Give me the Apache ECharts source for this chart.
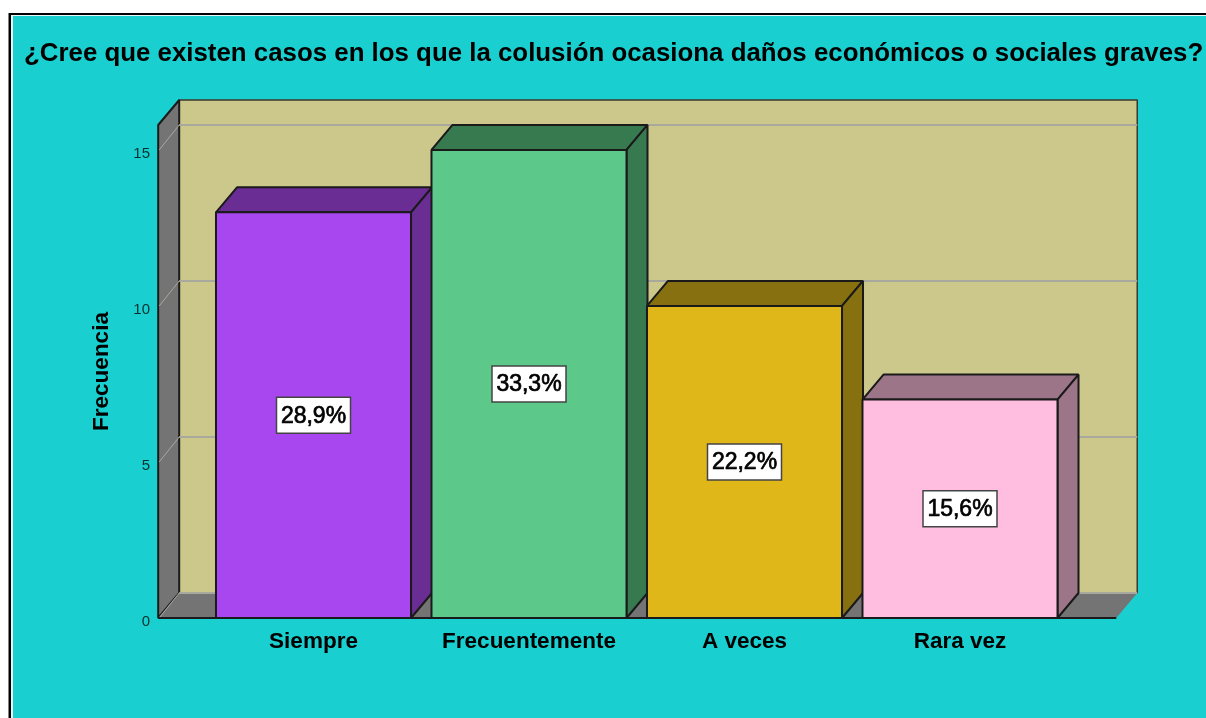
<!DOCTYPE html>
<html><head><meta charset="utf-8">
<style>html,body{margin:0;padding:0;background:#fff;overflow:hidden}#c{width:1206px;height:718px}</style>
<script src="https://cdn.jsdelivr.net/npm/echarts@6/dist/echarts.min.js"></script>
</head><body><div id="c"></div>
<script>
const titleText = '¿Cree que existen casos en los que la colusión ocasiona daños económicos o sociales graves?';
const categories = ['Siempre', 'Frecuentemente', 'A veces', 'Rara vez'];
const counts = [13, 15, 10, 7];
const percents = ['28,9%', '33,3%', '22,2%', '15,6%'];
const faceColors = ['#A846EF', '#5CC98A', '#E0B718', '#FFBDDF'];
const darkColors = ['#692D93', '#377A50', '#86700F', '#9C7588'];
const ticks = [0, 5, 10, 15];

const DX = 21, DY = -25, BAR = 0.905, WALL_L = 0.7207, WALL_R = 0.725;
const LINE = '#1a1a1a', FONT = '"Liberation Sans", Arial, sans-serif';

function poly(points, fill, stroke, z2, w) {
  return { type: 'polygon', z2: z2 || 0, shape: { points }, style: { fill, stroke: stroke || 'none', lineWidth: w === undefined ? 2 : w, lineJoin: 'bevel' } };
}
function renderWalls(params, api) {
  const band = api.size([1, 0])[0];
  const x0 = api.coord([0, 0])[0] - WALL_L * band;
  const x1 = api.coord([categories.length - 1, 0])[0] + WALL_R * band;
  const yb = api.coord([0, 0])[1], yt = api.coord([0, 15.8])[1];
  const kids = [
    poly([[x0 + DX, yt + DY], [x1 + DX, yt + DY], [x1 + DX, yb + DY], [x0 + DX, yb + DY]], '#CCC88C', '#3a3a2a', 0, 1.5),
    poly([[x0, yb], [x0, yt], [x0 + DX, yt + DY], [x0 + DX, yb + DY]], '#747474', LINE, 1),
    poly([[x0, yb], [x0 + DX, yb + DY], [x1 + DX, yb + DY], [x1, yb]], '#747474', 'none', 1)
  ];
  ticks.forEach(t => {
    const y = api.coord([0, t])[1];
    const s = { stroke: '#A8A89C', lineWidth: 2 };
    kids.push({ type: 'line', z2: 2, shape: { x1: x0 + 1, y1: y, x2: x0 + DX, y2: y + DY }, style: { stroke: '#A8A8A0', lineWidth: 1 } });
    kids.push({ type: 'line', z2: 2, shape: { x1: x0 + DX, y1: y + DY, x2: x1 + DX, y2: y + DY }, style: s });
  });
  kids.push({ type: 'line', z2: 3, shape: { x1: x0, y1: yb, x2: x1, y2: yb }, style: { stroke: LINE, lineWidth: 2 } });
  return { type: 'group', children: kids };
}
function renderBar(params, api) {
  const i = api.value(0), v = api.value(1);
  const band = api.size([1, 0])[0], w = band * BAR;
  const c = api.coord([i, v]), b = api.coord([i, 0]);
  const xl = c[0] - w / 2, xr = c[0] + w / 2, yt = c[1], yb = b[1];
  const cx = c[0], cy = (yt + yb) / 2;
  return { type: 'group', children: [
    poly([[xl, yt], [xr, yt], [xr + DX, yt + DY], [xl + DX, yt + DY]], darkColors[i], LINE),
    poly([[xr, yt], [xr + DX, yt + DY], [xr + DX, yb + DY], [xr, yb]], darkColors[i], LINE),
    poly([[xl, yt], [xr, yt], [xr, yb], [xl, yb]], faceColors[i], LINE),
    { type: 'rect', z2: 4, shape: { x: cx - 37, y: cy - 18, width: 74, height: 36 }, style: { fill: '#fff', stroke: '#444', lineWidth: 1.5 } },
    { type: 'text', z2: 5, x: cx, y: cy + 1, style: { text: percents[i], fill: '#000', stroke: '#000', lineWidth: 0.7, font: '23px ' + FONT, align: 'center', verticalAlign: 'middle' } }
  ] };
}

const chart = echarts.init(document.getElementById('c'), null, { renderer: 'canvas' });
chart.setOption({
  animation: false,
  backgroundColor: '#fff',
  graphic: [
    { type: 'rect', z: -10, shape: { x: 8.5, y: 13, width: 1198, height: 705 }, style: { fill: '#000' } },
    { type: 'rect', z: -9, shape: { x: 11, y: 15, width: 1195, height: 703 }, style: { fill: '#E8F8F8' } },
    { type: 'rect', z: -8, shape: { x: 13, y: 16, width: 1193, height: 702 }, style: { fill: '#1ACFCF' } }
  ],
  title: { text: titleText, left: 19, top: 36, textStyle: { fontFamily: FONT, fontWeight: 'bold', fontSize: 25.85, color: '#000' } },
  grid: { left: 205.75, width: 862, top: 125, height: 493 },
  xAxis: { type: 'category', data: categories, boundaryGap: true,
    axisLine: { show: false }, axisTick: { show: false },
    axisLabel: { interval: 0, hideOverlap: false, margin: 12, fontFamily: FONT, fontWeight: 'bold', fontSize: 22.5, color: '#000' } },
  yAxis: { type: 'value', min: 0, max: 15.8, interval: 5, offset: 47.75,
    axisLine: { show: false }, axisTick: { show: false }, splitLine: { show: false },
    axisLabel: { margin: 8, verticalAlign: 'top', lineHeight: 7, showMaxLabel: false, fontFamily: FONT, fontSize: 15, color: '#062f2f', formatter: v => ticks.includes(v) ? String(v) : '' },
    name: 'Frecuencia', nameLocation: 'middle', nameGap: 45, nameRotate: 90,
    nameTextStyle: { fontFamily: FONT, fontWeight: 'bold', fontSize: 22.5, color: '#000' } },
  series: [
    { type: 'custom', z: 2, silent: true, renderItem: renderWalls, data: [[0, 0]], encode: { x: 0, y: 1 }, clip: false },
    { type: 'custom', z: 3, silent: true, renderItem: renderBar, data: counts.map((v, i) => [i, v]), encode: { x: 0, y: 1 }, clip: false }
  ]
});
</script></body></html>
